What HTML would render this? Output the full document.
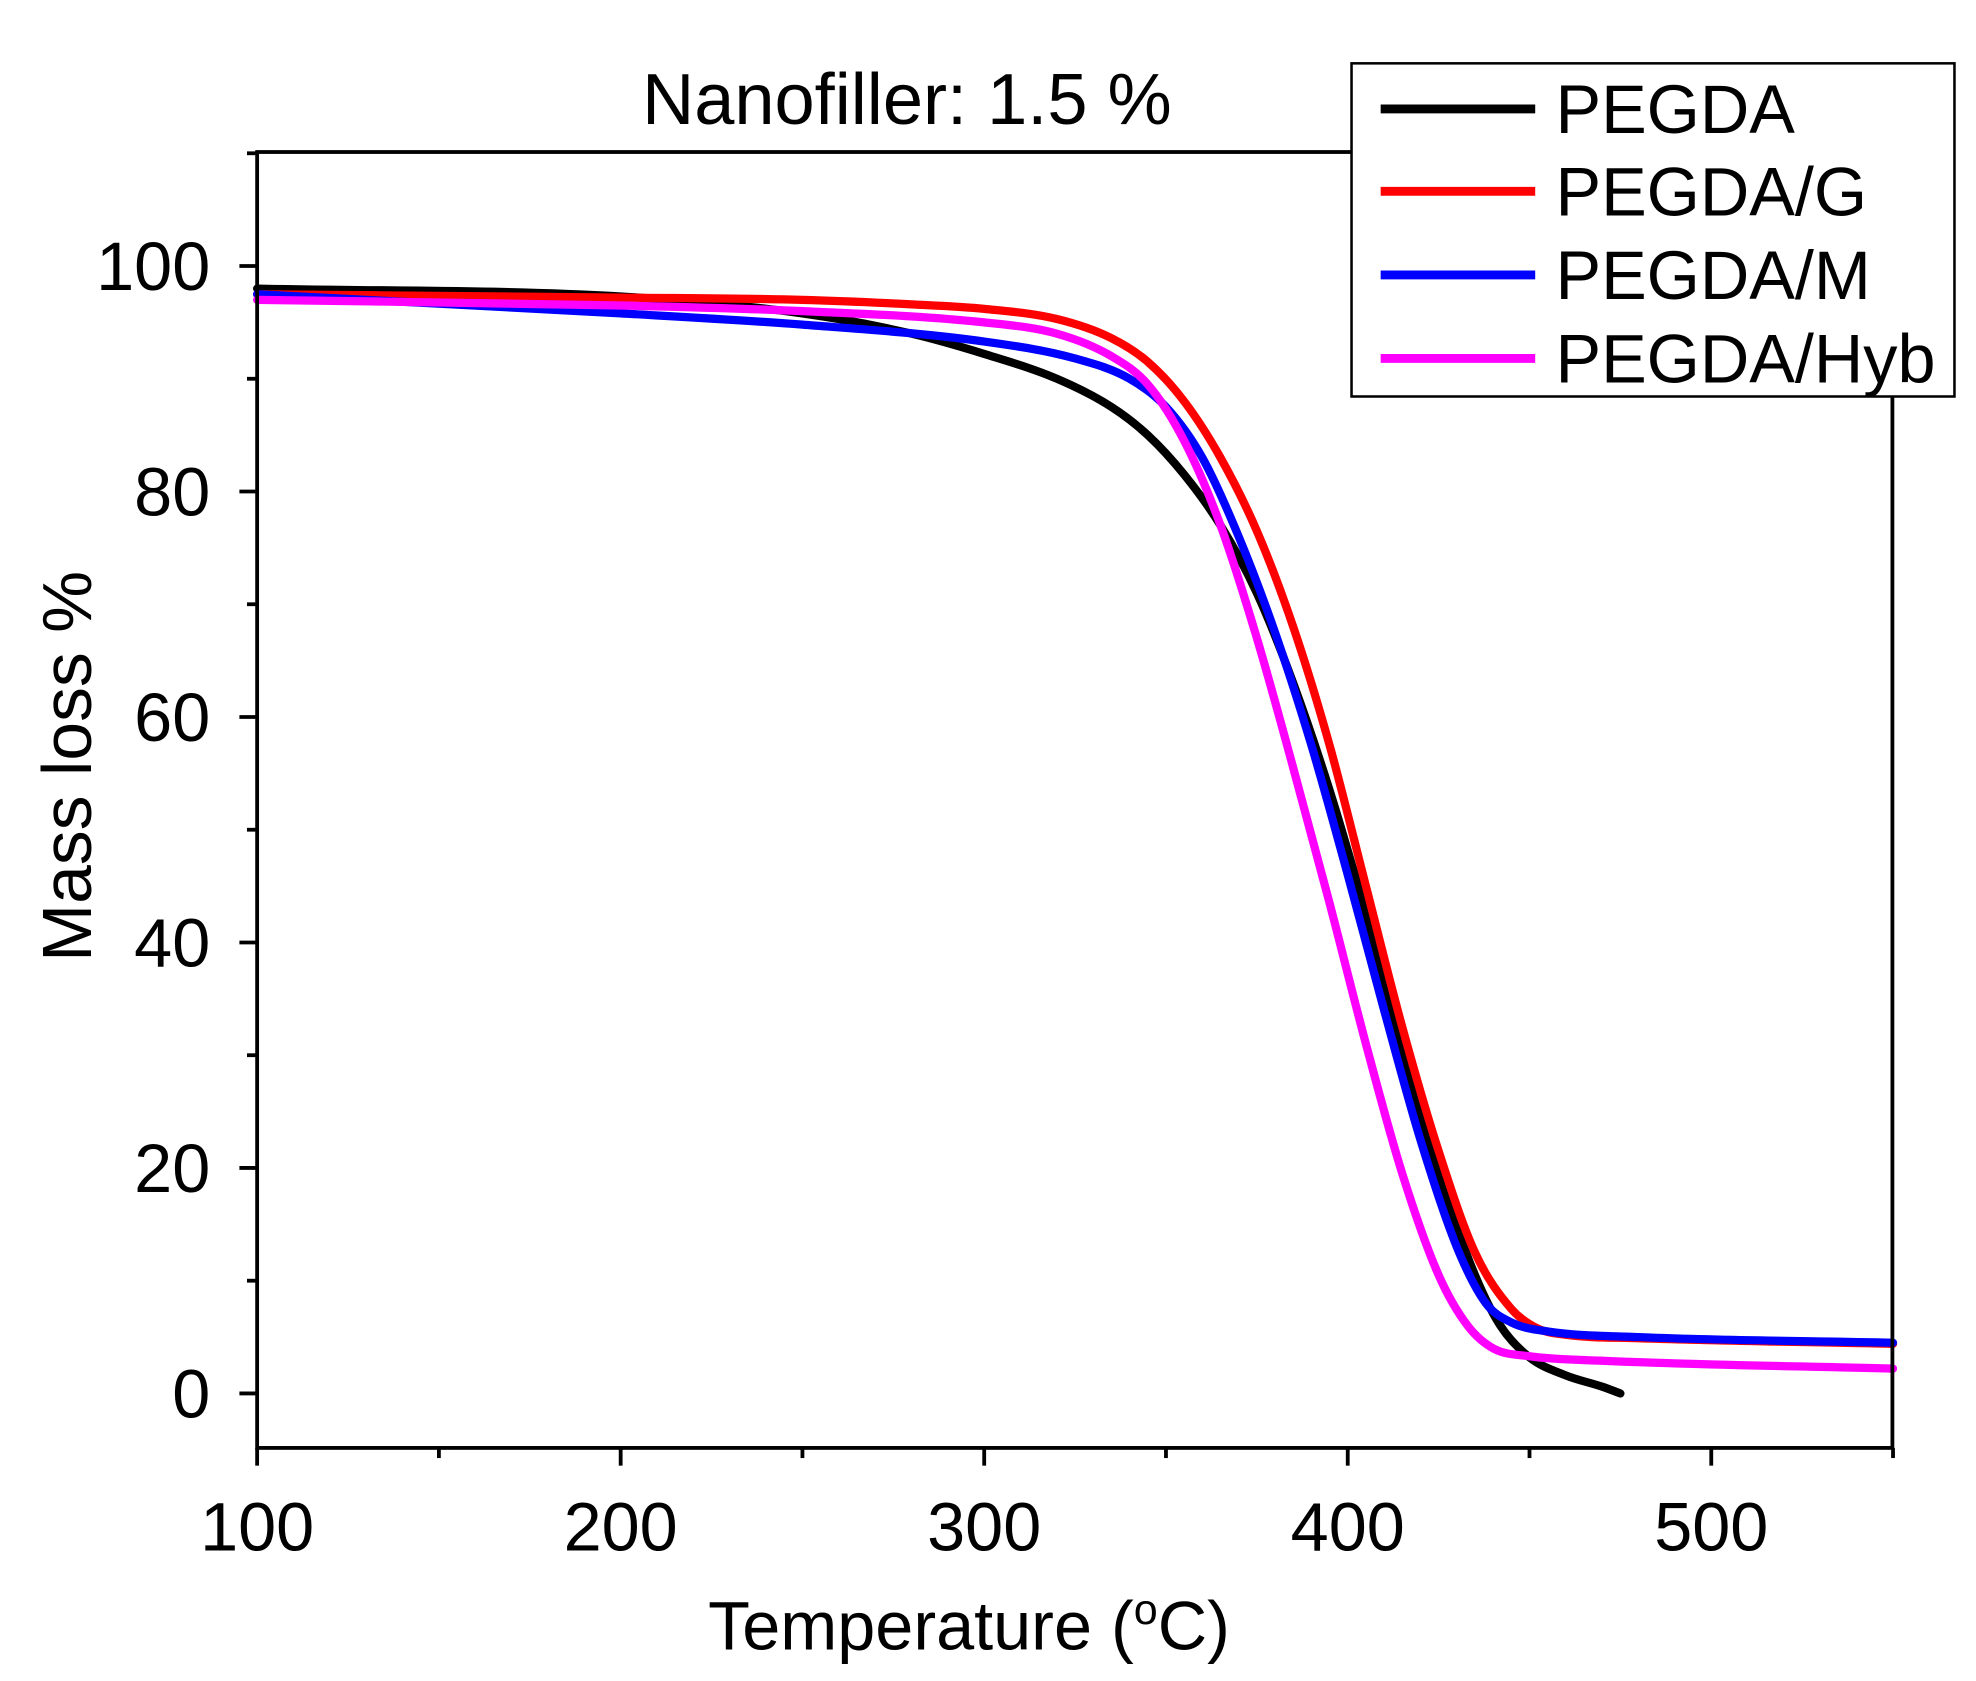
<!DOCTYPE html>
<html><head><meta charset="utf-8"><style>html,body{margin:0;padding:0;background:#fff}svg{display:block}</style></head>
<body>
<svg id="s" width="1976" height="1681" viewBox="0 0 1560 1327" preserveAspectRatio="none" xmlns="http://www.w3.org/2000/svg" font-family="Liberation Sans, sans-serif">
<rect width="1560" height="1327" fill="#fff"/>
<g id="curves" fill="none" stroke-width="6.5" stroke-linejoin="round" stroke-linecap="round"></g>
<rect x="203" y="120" width="1291" height="1023" fill="none" stroke="#000" stroke-width="3"/>
<g id="ticks" stroke="#000" stroke-width="3"></g>
<g font-size="54" text-anchor="end" fill="#000">
<text x="166" y="1119">0</text><text x="166" y="941">20</text><text x="166" y="763">40</text>
<text x="166" y="585">60</text><text x="166" y="407">80</text><text x="166" y="229">100</text>
</g>
<g font-size="54" text-anchor="middle" fill="#000">
<text x="203" y="1224">100</text><text x="490" y="1224">200</text><text x="777" y="1224">300</text>
<text x="1064" y="1224">400</text><text x="1351" y="1224">500</text>
</g>
<text x="765" y="1302" font-size="54" text-anchor="middle">Temperature (<tspan font-size="34" dy="-20">o</tspan><tspan dy="20">C)</tspan></text>
<text transform="translate(72,605) rotate(-90)" font-size="55" text-anchor="middle">Mass  loss %</text>
<text x="716" y="98" font-size="57" text-anchor="middle">Nanofiller: 1.5 %</text>
<rect x="1067" y="50" width="476" height="263" fill="#fff" stroke="#000" stroke-width="2"/>
<g stroke-width="7">
<line x1="1090" y1="86" x2="1212" y2="86" stroke="#000"/>
<line x1="1090" y1="151" x2="1212" y2="151" stroke="#f00"/>
<line x1="1090" y1="217" x2="1212" y2="217" stroke="#00f"/>
<line x1="1090" y1="283" x2="1212" y2="283" stroke="#f0f"/>
</g>
<g font-size="54" fill="#000">
<text x="1228" y="105">PEGDA</text><text x="1228" y="170">PEGDA/G</text>
<text x="1228" y="236">PEGDA/M</text><text x="1228" y="302">PEGDA/Hyb</text>
</g>
</svg>
<script>
const X=t=>203+(t-100)*2.87, Y=v=>1100-8.9*v;
const data={
"#000":[[100,98],[200,97.3],[250,95.8],[280,94],[300,92.2],[320,90],[335,87.5],[345,85],[355,81.5],[365,77],[375,71],[385,63],[395,53.5],[405,42.5],[415,30.5],[425,19.5],[435,10.5],[442,6],[450,3.2],[460,1.6],[470,0.6],[475,0]],
"#f00":[[100,97.5],[200,97.2],[250,97],[280,96.6],[300,96.2],[320,95.3],[335,93.6],[345,91.5],[355,88],[365,83],[375,76.5],[385,68],[395,57.5],[405,45],[415,32.5],[425,21.5],[435,12.5],[445,7.5],[452,5.8],[460,5.2],[480,4.9],[550,4.4]],
"#00f":[[100,97.5],[200,95.8],[250,94.8],[300,93.3],[325,91.8],[340,90],[350,87.5],[360,83],[370,76],[380,67.5],[390,57.5],[400,46],[410,34],[420,22.5],[430,13],[438,8],[445,6.3],[455,5.5],[480,5],[550,4.5]],
"#f0f":[[100,97],[200,96.5],[250,96],[300,95],[320,94],[335,92],[345,89.5],[355,84.5],[365,77],[375,67],[385,55.5],[395,43.5],[405,31],[415,19.5],[425,10.5],[433,6],[440,4],[450,3.3],[470,2.9],[550,2.2]]
};
function mono(pts){const n=pts.length,xs=pts.map(p=>p[0]),ys=pts.map(p=>p[1]);const d=[],m=[];
for(let i=0;i<n-1;i++)d.push((ys[i+1]-ys[i])/(xs[i+1]-xs[i]));
m[0]=d[0];m[n-1]=d[n-2];for(let i=1;i<n-1;i++)m[i]=d[i-1]*d[i]<=0?0:(d[i-1]+d[i])/2;
for(let i=0;i<n-1;i++){if(d[i]==0){m[i]=m[i+1]=0;continue;}const a=m[i]/d[i],b=m[i+1]/d[i],s=a*a+b*b;if(s>9){const t=3/Math.sqrt(s);m[i]=t*a*d[i];m[i+1]=t*b*d[i];}}
let s="M"+X(xs[0])+","+Y(ys[0]);
for(let i=0;i<n-1;i++){const h=(xs[i+1]-xs[i])/3;
s+=` C${X(xs[i]+h)},${Y(ys[i]+m[i]*h)} ${X(xs[i+1]-h)},${Y(ys[i+1]-m[i+1]*h)} ${X(xs[i+1])},${Y(ys[i+1])}`;}
return s;}
let h="";for(const c of ["#000","#f00","#00f","#f0f"])h+=`<path d="${mono(data[c])}" stroke="${c}"/>`;
document.getElementById("curves").innerHTML=h;
let t="";
for(let v=100;v<=550;v+=50){const x=X(v);t+=`<line x1="${x}" y1="1143" x2="${x}" y2="${v%100==0?1157:1151}"/>`;}
for(let v=0;v<=110;v+=10){const y=Y(v);t+=`<line x1="203" y1="${y}" x2="${v%20==0?189:195}" y2="${y}"/>`;}
document.getElementById("ticks").innerHTML=t;
</script>
</body></html>
